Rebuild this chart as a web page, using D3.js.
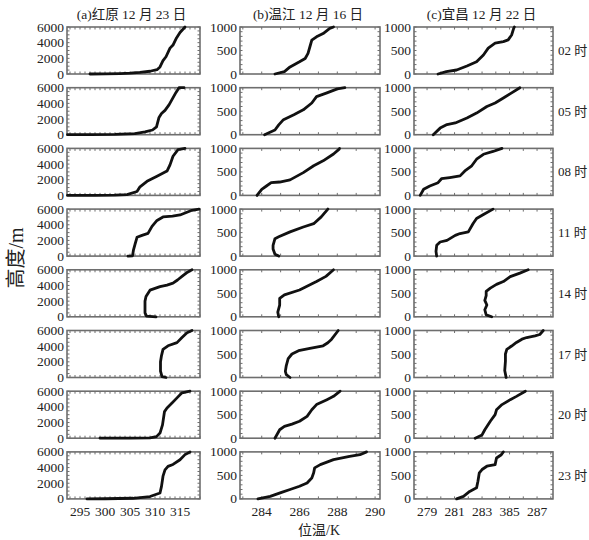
<!DOCTYPE html>
<html>
<head>
<meta charset="utf-8">
<script src="https://cdn.jsdelivr.net/npm/d3@7/dist/d3.min.js"></script>
<style>
  html, body { margin: 0; padding: 0; background: #fff; }
  svg text { font-family: "Liberation Serif", "Times New Roman", "Noto Sans CJK SC", serif; fill: #222; }
</style>
</head>
<body>
<svg id="chart" width="589" height="540"></svg>
<script>
// Potential temperature profiles (K vs height m) at three stations, eight times of day
const titles = ["(a)红原 12 月 23 日", "(b)温江 12 月 16 日", "(c)宜昌 12 月 22 日"];
const hourLabels = ["02 时", "05 时", "08 时", "11 时", "14 时", "17 时", "20 时", "23 时"];

const yTicksA = [0, 2000, 4000, 6000];
const yTicksBC = [0, 500, 1000];
const xTicksA = [295, 300, 305, 310, 315];
const xTickTextA = ["295", "300", "305", "310", "315"];
const xTicksB = [284, 286, 288, 290];
const xTickTextB = ["284", "286", "288", "290"];
const xTicksC = [279, 281, 283, 285, 287];
const xTickTextC = ["279", "281", "283", "385", "287"];

// Hongyuan: [theta K, height m]
const hongyuan = [
  [[297,0],[300,20],[303,60],[305,100],[307,200],[309,350],[310.4,550],[311,900],[311.6,1700],[312.2,2200],[313,3300],[313.6,3700],[314.3,4600],[315,5300],[316,6000]],
  [[292.5,0],[297,10],[302,40],[306,150],[308,350],[309.5,600],[310.3,1000],[310.8,2200],[311.3,2700],[312,3100],[312.8,3800],[313.5,4600],[314.2,5400],[314.8,6000],[315.8,6000]],
  [[292.5,0],[298,10],[302,40],[304.4,100],[306.4,500],[307,1100],[308.4,1800],[310.4,2450],[312.4,3100],[313,3900],[313.6,5000],[314.6,5850],[316,6000]],
  [[304.6,0],[305.5,30],[305.7,800],[306,1500],[306.4,2400],[307.4,2650],[308.6,2900],[309.4,3800],[310.4,4550],[311.6,5000],[313.5,5100],[315,5250],[317.4,5850],[318.8,6000]],
  [[310.2,0],[308.3,80],[308,500],[308,2000],[308.2,2600],[309,3400],[311,3850],[312.4,4050],[313.6,4300],[314.5,4700],[315.4,5150],[316.5,5700],[317.4,6000]],
  [[312.2,0],[311.4,100],[311.1,800],[311.1,2000],[311.3,2800],[311.6,3600],[312.6,4050],[314.4,4450],[315.4,5100],[316.4,5700],[317.4,6000]],
  [[299,0],[305,10],[309,50],[310.3,200],[311,650],[311.5,1700],[311.9,3400],[312.4,3850],[313.4,4500],[314.4,5150],[315.4,5800],[317,6000]],
  [[296.4,0],[300,20],[305.6,80],[309,300],[311,750],[311.3,1600],[311.6,2900],[312,3700],[312.6,4150],[313.6,4400],[315,5000],[316,5650],[317,6000]]
];

// Wenjiang
const wenjiang = [
  [[284.7,0],[285.2,50],[285.5,150],[286.0,260],[286.3,330],[286.45,440],[286.55,580],[286.65,720],[286.9,790],[287.25,860],[287.6,970],[287.8,1000]],
  [[284.15,0],[284.7,100],[284.9,210],[285.15,320],[285.7,425],[286.2,530],[286.65,675],[286.9,810],[287.45,890],[288.0,975],[288.4,1000]],
  [[283.75,0],[284.0,130],[284.25,200],[284.5,270],[284.95,285],[285.5,330],[286.2,485],[286.75,630],[287.25,735],[287.8,880],[288.1,985],[288.12,1000]],
  [[284.9,0],[284.7,40],[284.6,150],[284.6,230],[284.7,370],[284.9,410],[285.5,515],[286.2,620],[286.75,690],[287.15,835],[287.5,1000]],
  [[284.9,0],[284.85,100],[284.95,250],[284.95,390],[285.2,465],[286.0,570],[286.9,750],[287.4,860],[287.8,1000]],
  [[285.5,0],[285.3,60],[285.25,130],[285.3,255],[285.4,400],[285.6,500],[285.95,570],[286.55,620],[287.25,675],[287.5,740],[287.7,815],[288.05,1000]],
  [[284.7,0],[284.95,180],[285.2,250],[285.6,300],[286.0,360],[286.4,465],[286.65,605],[286.9,715],[287.45,820],[287.8,890],[288.15,1000]],
  [[283.8,0],[284.45,55],[285.05,140],[285.5,200],[286.0,270],[286.4,340],[286.65,445],[286.75,555],[286.8,660],[287.1,730],[287.8,835],[288.65,905],[289.2,940],[289.55,1000]]
];

// Yichang
const yichang = [
  [[279.8,0],[280.4,50],[281.15,85],[281.9,170],[282.6,260],[283.1,405],[283.45,550],[283.95,655],[284.55,690],[284.9,725],[285.15,830],[285.3,970],[285.35,1000]],
  [[279.45,0],[279.95,140],[280.45,215],[281.05,250],[281.9,355],[282.6,460],[283.35,600],[283.95,675],[284.55,780],[285.15,890],[285.75,1000]],
  [[278.5,0],[278.75,130],[279.2,200],[279.8,270],[280.05,355],[280.65,380],[281.4,415],[281.75,520],[282.25,630],[282.6,770],[283.1,875],[283.8,935],[284.45,1000]],
  [[279.7,0],[279.65,100],[279.7,230],[279.95,300],[280.45,335],[281.05,440],[281.4,480],[282.0,515],[282.35,695],[282.6,800],[283.1,885],[283.8,1000]],
  [[283.7,0],[283.3,40],[283.2,150],[283.35,250],[283.2,350],[283.3,450],[283.3,540],[283.6,610],[284.05,690],[284.55,750],[285.05,855],[285.75,930],[286.35,1000]],
  [[284.75,0],[284.65,150],[284.7,350],[284.7,500],[284.8,600],[285.15,670],[285.5,745],[285.9,815],[286.25,850],[286.85,885],[287.2,915],[287.45,1000]],
  [[282.5,0],[283.0,70],[283.2,180],[283.6,360],[283.95,500],[284.05,605],[284.45,715],[285.05,820],[285.5,890],[286.15,1000]],
  [[281.15,0],[281.65,55],[282.1,160],[282.6,235],[282.7,375],[282.8,555],[283.0,625],[283.35,695],[283.95,730],[284.05,870],[284.4,940],[284.55,1000]]
];

const svg = d3.select("#chart");

// column layout
const cols = [
  { data: hongyuan, x0: 67,  x1: 200, dom: [292.4, 319.0], yMax: 6000, yTicks: yTicksA,
    ticks: xTicksA, tickText: xTickTextA, minorX: d3.range(293, 319.01, 1), minorY: d3.range(0, 6001, 500) },
  { data: wenjiang, x0: 240, x1: 380, dom: [282.85, 290.26], yMax: 1000, yTicks: yTicksBC,
    ticks: xTicksB, tickText: xTickTextB, minorX: d3.range(283, 290.01, 1), minorY: d3.range(0, 1001, 100) },
  { data: yichang, x0: 414, x1: 553, dom: [278.05, 288.16], yMax: 1000, yTicks: yTicksBC,
    ticks: xTicksC, tickText: xTickTextC, minorX: d3.range(279, 288.01, 1), minorY: d3.range(0, 1001, 100) }
];

const rowTop = 27, rowPitch = 60.7, panelH = 47;
const frameColor = "#6e6e6e";

cols.forEach((c, ci) => {
  const x = d3.scaleLinear().domain(c.dom).range([c.x0, c.x1]);
  // column title
  svg.append("text")
    .attr("x", (c.x0 + c.x1) / 2 - 2)
    .attr("y", 19)
    .attr("text-anchor", "middle")
    .attr("font-size", 13.5)
    .text(titles[ci]);

  c.data.forEach((profile, ri) => {
    const top = rowTop + ri * rowPitch;
    const y = d3.scaleLinear().domain([0, c.yMax]).range([top + panelH, top]);
    const g = svg.append("g");

    // minor ticks pointing inward on all four sides
    const tickLen = 2.5;
    g.selectAll(null).data(c.minorX).join("line")
      .attr("x1", d => x(d)).attr("x2", d => x(d))
      .attr("y1", top).attr("y2", top + tickLen)
      .attr("stroke", frameColor).attr("stroke-width", 1);
    g.selectAll(null).data(c.minorX).join("line")
      .attr("x1", d => x(d)).attr("x2", d => x(d))
      .attr("y1", top + panelH).attr("y2", top + panelH - tickLen)
      .attr("stroke", frameColor).attr("stroke-width", 1);
    g.selectAll(null).data(c.minorY).join("line")
      .attr("x1", c.x0).attr("x2", c.x0 + tickLen)
      .attr("y1", d => y(d)).attr("y2", d => y(d))
      .attr("stroke", frameColor).attr("stroke-width", 1);
    g.selectAll(null).data(c.minorY).join("line")
      .attr("x1", c.x1).attr("x2", c.x1 - tickLen)
      .attr("y1", d => y(d)).attr("y2", d => y(d))
      .attr("stroke", frameColor).attr("stroke-width", 1);

    // frame
    g.append("rect")
      .attr("x", c.x0).attr("y", top)
      .attr("width", c.x1 - c.x0).attr("height", panelH)
      .attr("fill", "none").attr("stroke", frameColor).attr("stroke-width", 1.6);

    // y tick labels
    g.selectAll(null).data(c.yTicks).join("text")
      .attr("x", c.x0 - 3)
      .attr("y", d => y(d) + 4.5)
      .attr("text-anchor", "end")
      .attr("font-size", 13.5)
      .text(d => d);

    // profile line
    const line = d3.line().x(d => x(d[0])).y(d => y(d[1]));
    g.append("path")
      .datum(profile)
      .attr("d", line)
      .attr("fill", "none")
      .attr("stroke", "#111")
      .attr("stroke-width", 2.8)
      .attr("stroke-linejoin", "round")
      .attr("stroke-linecap", "round");

    // hour label on the right
    if (ci === 2) {
      svg.append("text")
        .attr("x", 558)
        .attr("y", top + panelH / 2 + 4.5)
        .attr("font-size", 13)
        .text(hourLabels[ri]);
    }

    // x tick labels on the bottom row
    if (ri === c.data.length - 1) {
      g.selectAll(null).data(c.ticks).join("text")
        .attr("x", (d, i) => x(d))
        .attr("y", top + panelH + 17)
        .attr("text-anchor", "middle")
        .attr("font-size", 13.5)
        .text((d, i) => c.tickText[i]);
    }
  });
});

// axis titles
svg.append("text")
  .attr("transform", "translate(23,258) rotate(-90)")
  .attr("text-anchor", "middle")
  .attr("font-size", 20)
  .text("高度/m");

svg.append("text")
  .attr("x", 319)
  .attr("y", 535)
  .attr("text-anchor", "middle")
  .attr("font-size", 14)
  .text("位温/K");
</script>
</body>
</html>
